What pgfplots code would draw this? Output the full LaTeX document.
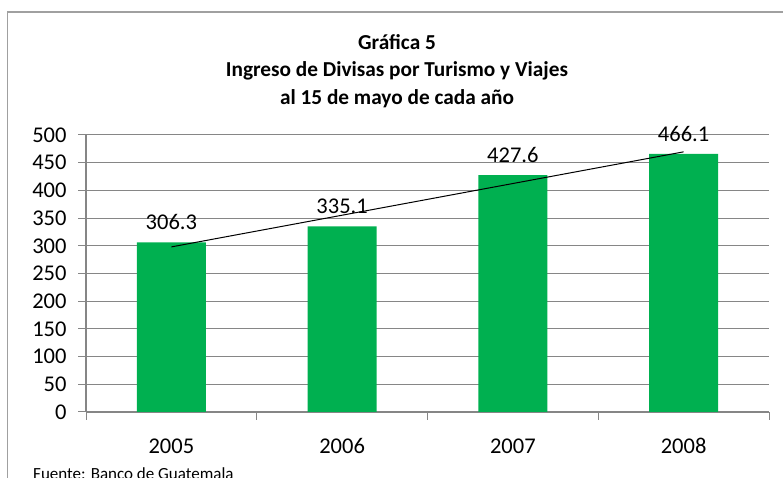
\documentclass[border=0pt]{standalone}
\usepackage{pgfplots}
\pgfplotsset{compat=1.18}
\usepackage{fontspec}
\setmainfont{Carlito}
\definecolor{barg}{RGB}{0,176,80}
\definecolor{gridg}{RGB}{134,134,134}
\definecolor{frameg}{RGB}{160,160,160}
\begin{document}
\begin{tikzpicture}[x=1bp,y=1bp]
\useasboundingbox (0,0) rectangle (783,478);
\draw[frameg, line width=1.6bp] (7.5,-5) -- (7.5,466) -- (800,466);
\node[font=\fontsize{21.3bp}{27.3bp}\selectfont\bfseries, align=center] at (397,407) {Gráfica 5\\Ingreso de Divisas por Turismo y Viajes\\al 15 de mayo de cada año};
\node[font=\fontsize{17bp}{20bp}\selectfont, anchor=base west, inner sep=0] at (33,-1.3) {Fuente: Banco de Guatemala};
\begin{axis}[
  at={(86bp,66bp)}, anchor=south west,
  width=683bp, height=277bp, scale only axis,
  xmin=-0.5, xmax=3.5, ymin=0, ymax=500,
  ytick={0,50,...,500},
  xtick={0,1,2,3}, xticklabels={2005,2006,2007,2008},
  minor xtick={-0.5,0.5,1.5,2.5,3.5},
  major x tick style={draw=none},
  tick align=outside,
  major tick length=8bp, minor tick length=8bp,
  tick style={gridg, line width=1bp},
  axis x line*=bottom, axis y line*=left,
  axis line style={gridg, line width=1.3bp},
  x axis line style={-}, y axis line style={-},
  ymajorgrids, grid style={gridg, line width=1bp},
  ticklabel style={font=\fontsize{22.5bp}{26bp}\selectfont},
  y tick label style={xshift=-8bp},
  x tick label style={anchor=base, yshift=-34bp},
  /pgf/number format/assume math mode=true,
  clip=false,
]
\addplot[ybar, bar width=69bp, fill=barg, draw=none,
  nodes near coords, nodes near coords style={font=\fontsize{22.5bp}{26bp}\selectfont, black, /pgf/number format/fixed, /pgf/number format/precision=1, /pgf/number format/fixed zerofill, yshift=9bp}]
  coordinates {(0,306.3) (1,335.1) (2,427.6) (3,466.1)};
\addplot[black, line width=1bp, no marks] coordinates {(0,298.0) (3,469.6)};
\end{axis}
\end{tikzpicture}
\end{document}
